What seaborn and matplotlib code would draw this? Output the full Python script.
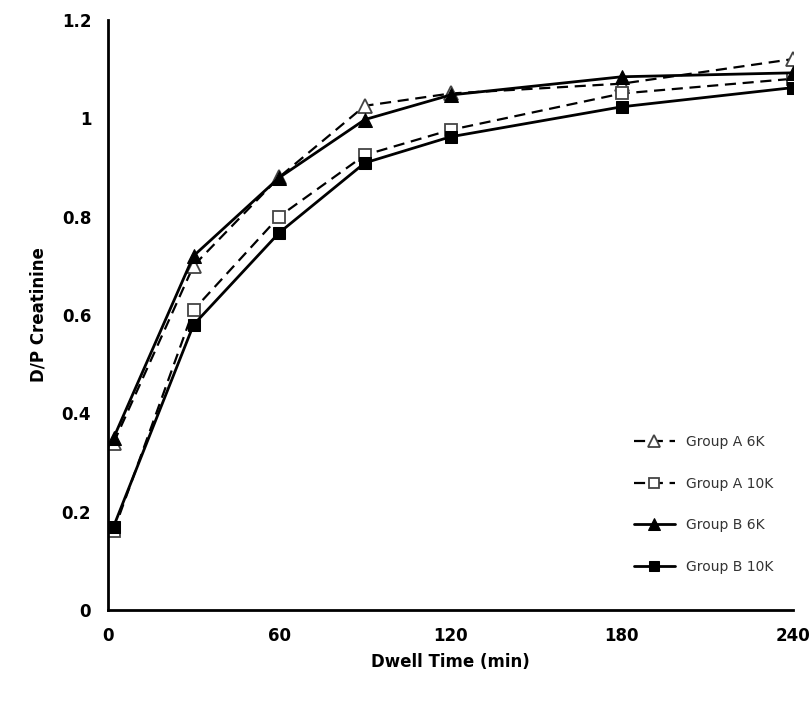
import pandas as pd
import seaborn as sns
import matplotlib.pyplot as plt

# dwell time (min) and D/P creatinine
time = [2, 30, 60, 90, 120, 180, 240]
a_6k = [0.34, 0.70, 0.88, 1.025, 1.05, 1.07, 1.12]
a_10k = [0.16, 0.61, 0.80, 0.925, 0.976, 1.05, 1.08]
b_6k = [0.35, 0.72, 0.879, 0.997, 1.047, 1.084, 1.092]
b_10k = [0.17, 0.58, 0.767, 0.909, 0.962, 1.023, 1.062]
labels = ["Group A 6K", "Group A 10K", "Group B 6K", "Group B 10K"]

df = pd.DataFrame({"time": time, labels[0]: a_6k, labels[1]: a_10k,
                   labels[2]: b_6k, labels[3]: b_10k})

sns.set_style("white")
plt.rcParams['font.family'] = ['DejaVu Sans']

fig = plt.figure(figsize=(8.11, 7.03), dpi=100)
ax = fig.add_axes([0.133, 0.132, 0.845, 0.84])

sns.lineplot(data=df, x="time", y=labels[0], ax=ax, color="black", lw=1.6,
             linestyle=(0, (5, 3)), marker="^", ms=10, mfc="white", mec="#444444",
             mew=1.3, label=labels[0])
sns.lineplot(data=df, x="time", y=labels[1], ax=ax, color="black", lw=1.6,
             linestyle=(0, (5, 3)), marker="s", ms=9, mfc="white", mec="#444444",
             mew=1.3, label=labels[1])
sns.lineplot(data=df, x="time", y=labels[2], ax=ax, color="black", lw=2,
             marker="^", ms=10, mec="black", label=labels[2])
sns.lineplot(data=df, x="time", y=labels[3], ax=ax, color="black", lw=2,
             marker="s", ms=9, mec="black", label=labels[3])

ax.set_xlim(0, 240)
ax.set_ylim(0, 1.2)
ax.set_xticks([0, 60, 120, 180, 240])
ax.set_yticks([0, 0.2, 0.4, 0.6, 0.8, 1.0, 1.2])
ax.set_yticklabels(["0", "0.2", "0.4", "0.6", "0.8", "1", "1.2"])
ax.tick_params(direction="in", length=6, width=1.5, labelsize=12, pad=12,
               colors="black")
for t in ax.get_xticklabels() + ax.get_yticklabels():
    t.set_fontweight("bold")

sns.despine(ax=ax)
ax.spines["left"].set_linewidth(2)
ax.spines["bottom"].set_linewidth(2)
ax.spines["left"].set_color("black")
ax.spines["bottom"].set_color("black")

ax.set_xlabel("Dwell Time (min)", fontsize=12, fontweight="bold", labelpad=6,
              color="black")
ax.set_ylabel("D/P Creatinine", fontsize=12, fontweight="bold", labelpad=10,
              color="black")

leg = ax.legend(loc="lower right", bbox_to_anchor=(0.99, 0.04), frameon=False,
                fontsize=10, labelspacing=2.0, handlelength=3, markerscale=0.8)
for t in leg.get_texts():
    t.set_color("#333333")

fig.savefig("out.png", dpi=100)
